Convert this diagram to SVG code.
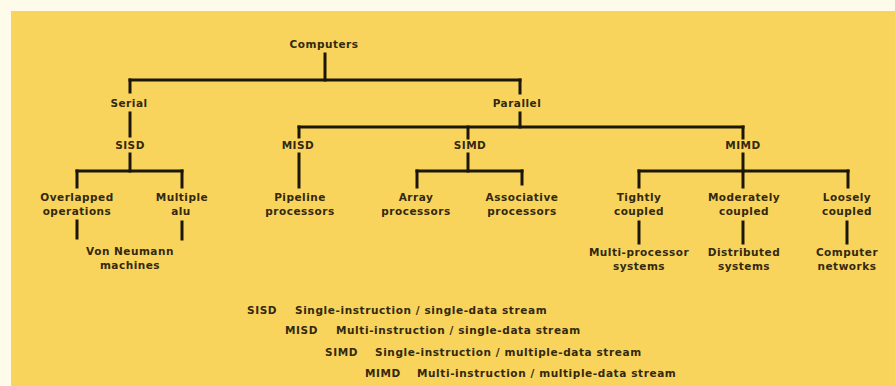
<svg xmlns="http://www.w3.org/2000/svg" width="895" height="386" viewBox="0 0 895 386">
<style>
text{font-family:"DejaVu Sans","Liberation Sans",sans-serif;font-size:10.5px;font-weight:bold;fill:#33290f;text-anchor:middle;letter-spacing:0.5px}
.lg{text-anchor:start;letter-spacing:0.6px}
.c line{stroke:#1c1608;stroke-width:3;stroke-linecap:square}
</style>
<rect width="895" height="386" fill="#fffbea"/>
<rect x="11" y="11" width="884" height="375" fill="#f9d45d"/>
<g class="c" id="connectors">
<line x1="325" y1="54" x2="325" y2="80"/>
<line x1="130" y1="80" x2="520" y2="80"/>
<line x1="130" y1="80" x2="130" y2="92"/>
<line x1="520" y1="80" x2="520" y2="93"/>
<line x1="130" y1="113" x2="130" y2="136"/>
<line x1="130" y1="154" x2="130" y2="171"/>
<line x1="77" y1="171" x2="182" y2="171"/>
<line x1="77" y1="171" x2="77" y2="187"/>
<line x1="182" y1="171" x2="182" y2="187"/>
<line x1="77" y1="221" x2="77" y2="238"/>
<line x1="182" y1="222" x2="182" y2="239"/>
<line x1="520" y1="113" x2="520" y2="127"/>
<line x1="299" y1="127" x2="743" y2="127"/>
<line x1="299" y1="127" x2="299" y2="137"/>
<line x1="299" y1="154" x2="299" y2="187"/>
<line x1="468" y1="127" x2="468" y2="138"/>
<line x1="468" y1="154" x2="468" y2="171"/>
<line x1="417" y1="171" x2="522" y2="171"/>
<line x1="417" y1="171" x2="417" y2="187"/>
<line x1="522" y1="171" x2="522" y2="184"/>
<line x1="743" y1="127" x2="743" y2="138"/>
<line x1="743" y1="154" x2="743" y2="171"/>
<line x1="639" y1="171" x2="848" y2="171"/>
<line x1="639" y1="171" x2="639" y2="187"/>
<line x1="743" y1="171" x2="743" y2="187"/>
<line x1="848" y1="171" x2="848" y2="187"/>
<line x1="639" y1="222" x2="639" y2="243"/>
<line x1="743" y1="222" x2="743" y2="243"/>
<line x1="847" y1="222" x2="847" y2="243"/>
</g>
<g id="computers"><text x="324" y="48">Computers</text></g>
<g id="serial"><text x="129" y="107">Serial</text></g>
<g id="parallel"><text x="517" y="107">Parallel</text></g>
<g id="sisd"><text x="130" y="149">SISD</text></g>
<g id="misd"><text x="298" y="149">MISD</text></g>
<g id="simd"><text x="470" y="149">SIMD</text></g>
<g id="mimd"><text x="743" y="149">MIMD</text></g>
<g id="overlapped"><text x="77" y="201">Overlapped</text><text x="77" y="215">operations</text></g>
<g id="multiple-alu"><text x="182" y="201">Multiple</text><text x="181" y="215">alu</text></g>
<g id="von-neumann"><text x="130" y="255">Von Neumann</text><text x="130" y="269">machines</text></g>
<g id="pipeline"><text x="300" y="201">Pipeline</text><text x="300" y="215">processors</text></g>
<g id="array"><text x="416" y="201">Array</text><text x="416" y="215">processors</text></g>
<g id="associative"><text x="522" y="201">Associative</text><text x="522" y="215">processors</text></g>
<g id="tightly"><text x="639" y="201">Tightly</text><text x="639" y="215">coupled</text></g>
<g id="moderately"><text x="744" y="201">Moderately</text><text x="744" y="215">coupled</text></g>
<g id="loosely"><text x="847" y="201">Loosely</text><text x="847" y="215">coupled</text></g>
<g id="multiprocessor"><text x="639" y="256">Multi-processor</text><text x="639" y="270">systems</text></g>
<g id="distributed"><text x="744" y="256">Distributed</text><text x="744" y="270">systems</text></g>
<g id="networks"><text x="847" y="256">Computer</text><text x="847" y="270">networks</text></g>
<g id="legend">
<text class="lg" x="247" y="314">SISD</text><text class="lg" x="295" y="314">Single-instruction / single-data stream</text>
<text class="lg" x="285" y="334">MISD</text><text class="lg" x="336" y="334">Multi-instruction / single-data stream</text>
<text class="lg" x="325" y="356">SIMD</text><text class="lg" x="375" y="356">Single-instruction / multiple-data stream</text>
<text class="lg" x="365" y="377">MIMD</text><text class="lg" x="417" y="377">Multi-instruction / multiple-data stream</text>
</g>
</svg>
